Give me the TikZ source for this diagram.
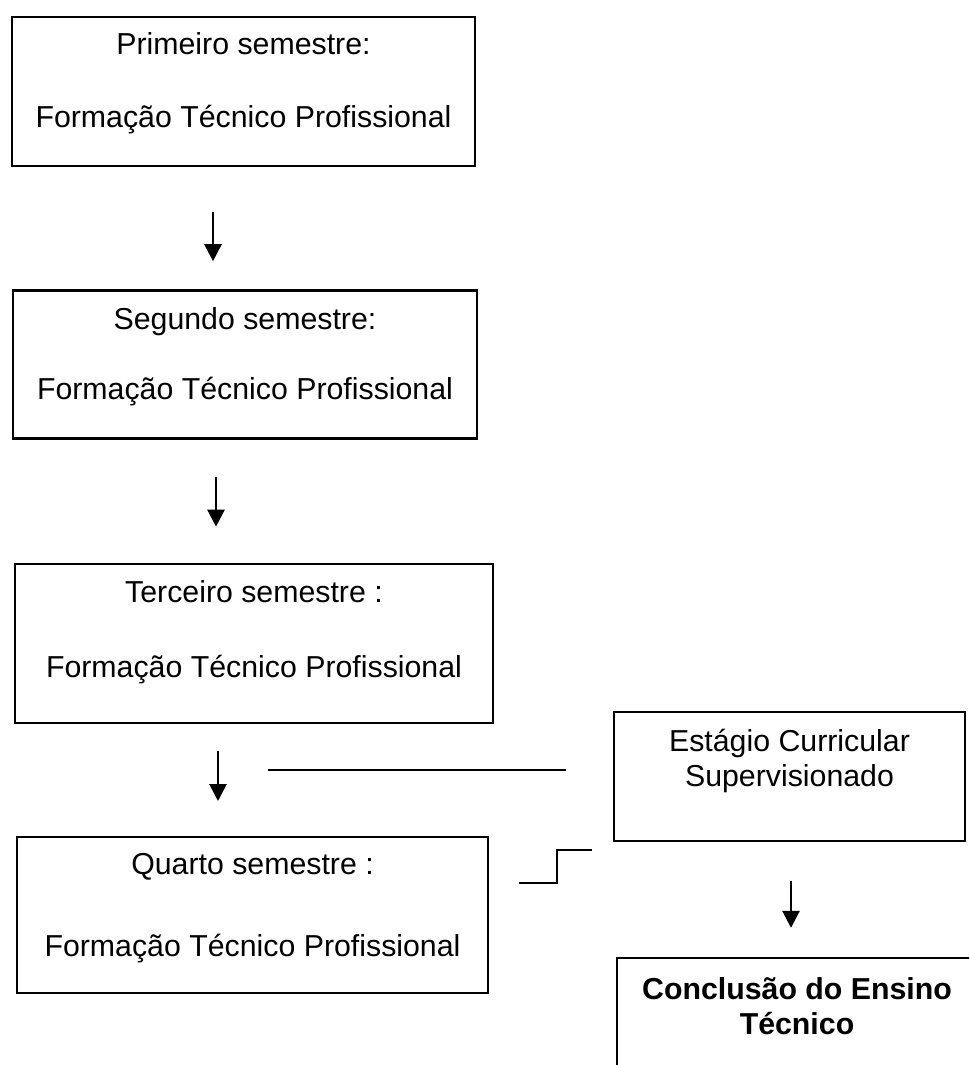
\documentclass[tikz,border=0pt]{standalone}
\usepackage{fontspec}
\setmainfont{Liberation Sans}
\usetikzlibrary{arrows.meta, positioning}
\newcommand{\fundo}[1]{\rule[-#1]{0pt}{0pt}}

\begin{document}
\begin{tikzpicture}[
    x=1pt, y=-1pt,
    punkt/.style = {rectangle, draw, line width=2.4pt, inner sep=0pt, align=center},
    caixa/.style = {punkt, minimum height=129pt},
    pil/.style = {black, line width=2.8pt, -{Triangle[length=17pt, width=17pt]}},
    linha/.style = {black, line width=2.4pt},
    font=\fontsize{30.3}{35}\selectfont
    ]
    \useasboundingbox (0,0) rectangle (969,1065);
    \clip (0,0) rectangle (969,1065);
    %nodes
    \node[punkt, minimum width=463pt, minimum height=149pt] (p1) at (243.5,91.5)
        {Primeiro semestre:\\[38pt]Formação Técnico Profissional\fundo{23pt}};
    \node[punkt, minimum width=464pt, minimum height=148pt] (p2)
        [below=122pt of p1, xshift=1.5pt]
        {Segundo semestre:\\[35pt]Formação Técnico Profissional\fundo{21pt}};
    \node[punkt, minimum width=478pt, minimum height=159pt] (p3)
        [below=123pt of p2, xshift=9pt]
        {Terceiro semestre :\\[40pt]Formação Técnico Profissional\fundo{28pt}};
    \node[punkt, minimum width=471pt, minimum height=156pt] (p4)
        [below=112pt of p3, xshift=-1.5pt]
        {Quarto semestre :\\[47pt]Formação Técnico Profissional\fundo{20pt}};

    \node[caixa, minimum width=351pt] (est) at (789.5,776.5)
        {Estágio Curricular\\Supervisionado\fundo{37pt}};
    \node[caixa, minimum width=360pt] (conc) at (797,1022.5)
        {\bfseries Conclusão do Ensino\\\bfseries Técnico\fundo{32pt}};

    \coordinate (liga) at (268,770);
    \coordinate (d1) at ([shift={(30pt,32pt)}]p4.east);
    \coordinate (d2) at ([shift={(-21pt,-8pt)}]est.south west);

    % edges
    \draw[pil, shorten <=45pt, shorten >=28pt] ([xshift=-30.5pt]p1.south)
        -- ([xshift=-30.5pt]p1.south |- p2.north);
    \draw[pil, shorten <=37pt, shorten >=36pt] ([xshift=-29pt]p2.south)
        -- ([xshift=-29pt]p2.south |- p3.north);
    \draw[pil, shorten <=27pt, shorten >=35pt] ([xshift=-36pt]p3.south)
        -- ([xshift=-36pt]p3.south |- p4.north);
    \draw[pil, shorten <=39pt, shorten >=29pt] ([xshift=1.5pt]est.south)
        -- ([xshift=1.5pt]est.south |- conc.north);
    \draw[linha, shorten >=47pt] (liga) -- (liga -| est.west);
    \draw[linha] (d1) -- ++(38,0) |- (d2);
\end{tikzpicture}
\end{document}
